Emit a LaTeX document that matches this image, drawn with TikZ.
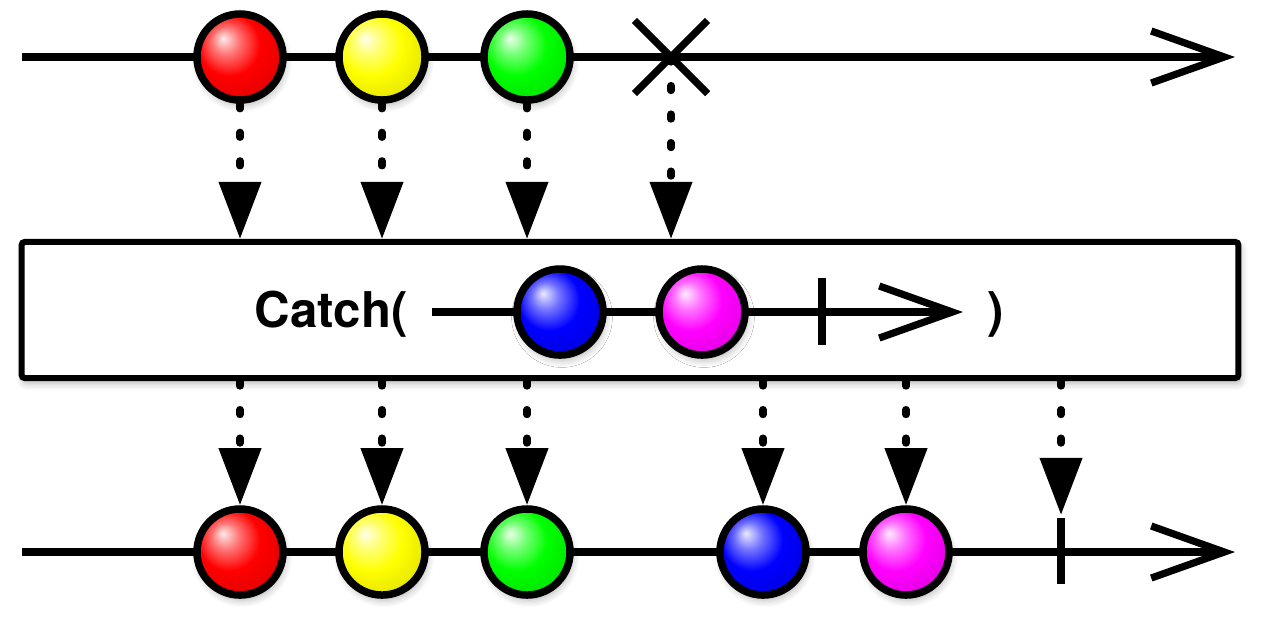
\documentclass[tikz,border=0pt]{standalone}
\usepackage{fontspec}
\setmainfont{TeX Gyre Heros}
\usetikzlibrary{arrows.meta,shapes.misc,shadows.blur}

\makeatletter
\pgfdeclareradialshading[tikz@ball]{marbleshade}{\pgfqpoint{-10bp}{11bp}}{%
  color(0bp)=(tikz@ball!8!white); color(8bp)=(tikz@ball!55!white);
  color(18bp)=(tikz@ball); color(28bp)=(tikz@ball!92!black);
  color(50bp)=(tikz@ball!55!black)}
\makeatother

\begin{document}
\begin{tikzpicture}[x=0.01cm, y=-0.01cm, line width=0.072cm,
    every node/.style={inner sep=0pt},
    marble/.style={circle, draw, line width=0.075cm, minimum size=0.86cm,
      ball color=#1, shading=marbleshade,
      blur shadow={shadow xshift=0.02cm, shadow yshift=-0.05cm, shadow blur steps=6, shadow opacity=30}},
    timeline/.style={-{Straight Barb[length=0.73cm, width=0.52cm]}},
    flow/.style={dash pattern=on 0.05cm off 0.235cm, line cap=round,
      -{Triangle[length=0.57cm, width=0.41cm]}},
    caption/.style={font=\bfseries\fontsize{14}{17}\selectfont}]
    \useasboundingbox (0,0) rectangle (1280,620);

    % source
    \coordinate (src start) at (22,57);
    \coordinate (src end) at (1235,57);
    \draw[timeline] (src start) -- (src end);
    \node[marble=red] (r1) at (240,57) {};
    \node[marble=yellow] (y1) at (382,57) {};
    \node[marble=green] (g1) at (527,57) {};
    \node[cross out, draw, line width=0.072cm, minimum size=0.66cm] (err) at (671,57) {};

    % operator box
    \node[draw, fill=white, line width=0.06cm, rounded corners=0.03cm,
      minimum width=12.16cm, minimum height=1.36cm,
      blur shadow={shadow xshift=0.02cm, shadow yshift=-0.05cm, shadow blur steps=6, shadow opacity=30}] (op) at (630,310) {};
    \node[caption, anchor=base west] (catch) at (251,327) {Catch(};
    \node[caption, anchor=base] (close) at (996,327) {)};

    \coordinate (alt start) at (432,312);
    \coordinate (alt end) at (963,312);
    \coordinate (done0) at (822,312);
    \draw[timeline] (alt start) -- (alt end);
    \draw ([yshift=0.34cm]done0) -- ([yshift=-0.33cm]done0);
    \node[marble=blue] (b0) at (560,312) {};
    \node[marble=magenta] (p0) at (702,312) {};

    \draw[flow] (r1) -- (r1 |- op.north);
    \draw[flow] (y1) -- (y1 |- op.north);
    \draw[flow] (g1) -- (g1 |- op.north);
    \draw[flow] (err.center) -- (err |- op.north);

    % result
    \coordinate (res start) at (22,552);
    \coordinate (res end) at (1235,552);
    \coordinate (done1) at (1061,552);
    \draw[timeline] (res start) -- (res end);
    \draw ([yshift=0.34cm]done1) -- ([yshift=-0.32cm]done1);
    \node[marble=red] (r2) at (240,552) {};
    \node[marble=yellow] (y2) at (382,552) {};
    \node[marble=green] (g2) at (527,552) {};
    \node[marble=blue] (b2) at (763,552) {};
    \node[marble=magenta] (p2) at (906,552) {};

    \draw[flow] (r2 |- op.south) -- (r2);
    \draw[flow] (y2 |- op.south) -- (y2);
    \draw[flow] (g2 |- op.south) -- (g2);
    \draw[flow] (b2 |- op.south) -- (b2);
    \draw[flow] (p2 |- op.south) -- (p2);
    \draw[flow] (done1 |- op.south) -- ([yshift=0.37cm]done1);
  \end{tikzpicture}
\end{document}
